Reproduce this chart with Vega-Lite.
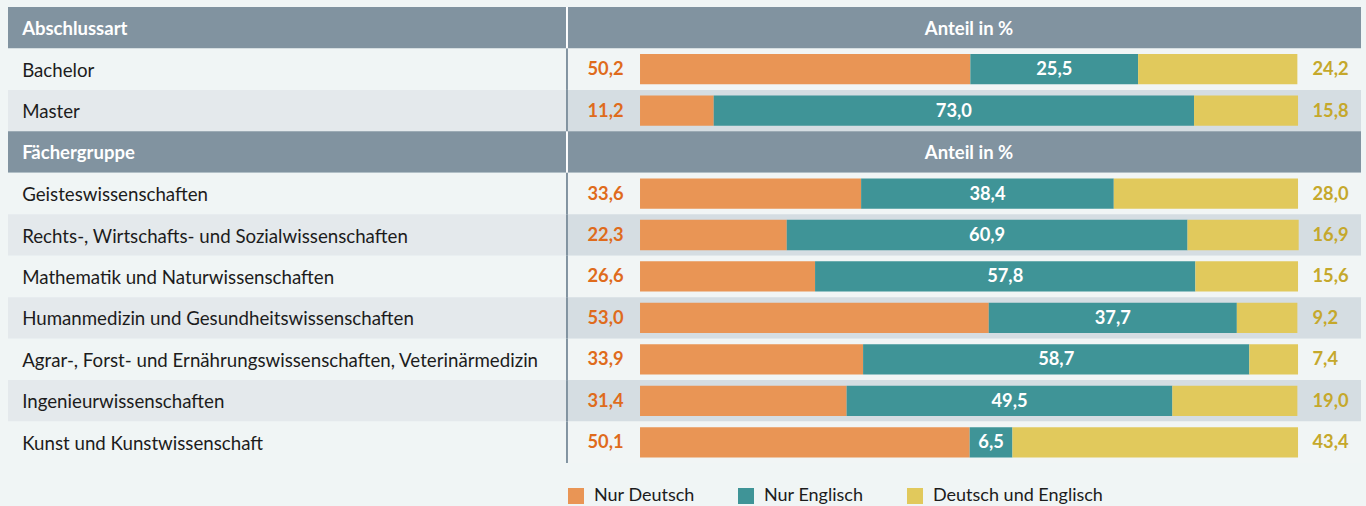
{
  "$schema": "https://vega.github.io/schema/vega-lite/v6.json",
  "width": 1353,
  "height": 456,
  "autosize": {"type": "none"},
  "padding": {"left": 8, "top": 7, "right": 5, "bottom": 43},
  "background": "#f0f5f5",
  "config": {
    "view": {"stroke": null},
    "font": "Lato",
    "locale": {"number": {"decimal": ",", "thousands": ".", "grouping": [3], "currency": ["", " €"]}}
  },
  "datasets": {
    "rows": [
      {"r": 1, "label": "Abschlussart", "kind": "header", "head": "Anteil in %"},
      {"r": 2, "label": "Bachelor", "kind": "odd", "D": 50.2, "E": 25.5, "B": 24.2},
      {"r": 3, "label": "Master", "kind": "even", "D": 11.2, "E": 73.0, "B": 15.8},
      {"r": 4, "label": "Fächergruppe", "kind": "header", "head": "Anteil in %"},
      {"r": 5, "label": "Geisteswissenschaften", "kind": "odd", "D": 33.6, "E": 38.4, "B": 28.0},
      {"r": 6, "label": "Rechts-, Wirtschafts- und Sozialwissenschaften", "kind": "even", "D": 22.3, "E": 60.9, "B": 16.9},
      {"r": 7, "label": "Mathematik und Naturwissenschaften", "kind": "odd", "D": 26.6, "E": 57.8, "B": 15.6},
      {"r": 8, "label": "Humanmedizin und Gesundheitswissenschaften", "kind": "even", "D": 53.0, "E": 37.7, "B": 9.2},
      {"r": 9, "label": "Agrar-, Forst- und Ernährungswissenschaften, Veterinärmedizin", "kind": "odd", "D": 33.9, "E": 58.7, "B": 7.4},
      {"r": 10, "label": "Ingenieurwissenschaften", "kind": "even", "D": 31.4, "E": 49.5, "B": 19.0},
      {"r": 11, "label": "Kunst und Kunstwissenschaft", "kind": "odd", "D": 50.1, "E": 6.5, "B": 43.4}
    ]
  },
  "data": {"name": "rows"},
  "layer": [
    {
      "mark": {"type": "rect"},
      "encoding": {
        "x": {"datum": -96.05, "type": "quantitative", "scale": {"domain": [-96.05, 109.57], "nice": false, "zero": false}, "axis": null},
        "x2": {"datum": -11.1},
        "y": {"field": "r", "type": "ordinal", "scale": {"paddingInner": 0, "paddingOuter": 0}, "axis": null},
        "fill": {"condition": [{"test": "datum.kind === 'header'", "value": "#8193a0"}, {"test": "datum.kind === 'even'", "value": "#e4e9ec"}], "value": "#f0f5f5"}
      }
    },
    {
      "mark": {"type": "rect"},
      "encoding": {
        "x": {"datum": -11.1, "type": "quantitative"},
        "x2": {"datum": 109.57},
        "y": {"field": "r", "type": "ordinal"},
        "fill": {"condition": [{"test": "datum.kind === 'header'", "value": "#8193a0"}, {"test": "datum.kind === 'even'", "value": "#d5dde2"}], "value": "#f1f5f5"}
      }
    },
    {
      "mark": {"type": "rect"},
      "encoding": {
        "x": {"datum": -11.25, "type": "quantitative"},
        "x2": {"datum": -10.95},
        "y": {"field": "r", "type": "ordinal"},
        "fill": {"condition": [{"test": "datum.kind === 'header'", "value": "#ffffff"}], "value": "#8193a0"}
      }
    },
    {
      "transform": [{"filter": "datum.kind !== 'header'"}],
      "mark": {"type": "text", "align": "left", "baseline": "middle", "fontSize": 18.7, "dy": 1.5, "color": "#1c1c1c"},
      "encoding": {
        "x": {"datum": -93.9, "type": "quantitative"},
        "y": {"field": "r", "type": "ordinal"},
        "text": {"field": "label"}
      }
    },
    {
      "transform": [{"filter": "datum.kind === 'header'"}],
      "mark": {"type": "text", "align": "left", "baseline": "middle", "fontSize": 18.5, "dy": 1, "fontWeight": "bold", "color": "#ffffff"},
      "encoding": {
        "x": {"datum": -93.9, "type": "quantitative"},
        "y": {"field": "r", "type": "ordinal"},
        "text": {"field": "label"}
      }
    },
    {
      "transform": [{"filter": "datum.kind === 'header'"}],
      "mark": {"type": "text", "align": "center", "baseline": "middle", "fontSize": 18.5, "dy": 1, "fontWeight": "bold", "color": "#ffffff"},
      "encoding": {
        "x": {"datum": 50, "type": "quantitative"},
        "y": {"field": "r", "type": "ordinal"},
        "text": {"field": "head"}
      }
    },
    {
      "transform": [
        {"filter": "datum.kind !== 'header'"},
        {"fold": ["D", "E", "B"], "as": ["cat", "v"]},
        {"stack": "v", "groupby": ["r"], "as": ["x0", "x1"]}
      ],
      "layer": [
        {
          "mark": {"type": "bar", "height": {"band": 0.73}},
          "encoding": {
            "x": {"field": "x0", "type": "quantitative"},
            "x2": {"field": "x1"},
            "y": {"field": "r", "type": "ordinal"},
            "color": {
              "field": "cat",
              "type": "nominal",
              "scale": {"domain": ["D", "E", "B"], "range": ["#e99555", "#3f9497", "#e1c95c"]},
              "legend": {
                "title": null,
                "orient": "none",
                "direction": "horizontal",
                "legendX": 559,
                "legendY": 480,
                "padding": 0,
                "symbolType": "square",
                "symbolSize": 256,
                "symbolStrokeWidth": 0,
                "symbolOpacity": 1,
                "labelFontSize": 18,
                "labelColor": "#1c1c1c",
                "labelOffset": 9,
                "labelLimit": 400,
                "columnPadding": 42,
                "labelExpr": "datum.value === 'D' ? 'Nur Deutsch' : datum.value === 'E' ? 'Nur Englisch' : 'Deutsch und Englisch'"
              }
            }
          }
        },
        {
          "transform": [
            {"filter": "datum.cat === 'E'"},
            {"fold": ["x0", "x1"], "as": ["edge", "ex"]},
            {"aggregate": [{"op": "mean", "field": "ex", "as": "mid"}, {"op": "max", "field": "v", "as": "val"}], "groupby": ["r"]}
          ],
          "mark": {"type": "text", "align": "center", "baseline": "middle", "fontSize": 18.3, "dy": 1, "fontWeight": "bold", "color": "#ffffff"},
          "encoding": {
            "x": {"field": "mid", "type": "quantitative"},
            "y": {"field": "r", "type": "ordinal"},
            "text": {"field": "val", "type": "quantitative", "format": ".1f"}
          }
        }
      ]
    },
    {
      "transform": [{"filter": "datum.kind !== 'header'"}],
      "mark": {"type": "text", "align": "right", "baseline": "middle", "fontSize": 18.3, "dy": 1, "fontWeight": "bold", "color": "#df6b1c"},
      "encoding": {
        "x": {"datum": -2.5, "type": "quantitative"},
        "y": {"field": "r", "type": "ordinal"},
        "text": {"field": "D", "type": "quantitative", "format": ".1f"}
      }
    },
    {
      "transform": [{"filter": "datum.kind !== 'header'"}],
      "mark": {"type": "text", "align": "left", "baseline": "middle", "fontSize": 18.3, "dy": 1, "fontWeight": "bold", "color": "#c5a82b"},
      "encoding": {
        "x": {"datum": 102.2, "type": "quantitative"},
        "y": {"field": "r", "type": "ordinal"},
        "text": {"field": "B", "type": "quantitative", "format": ".1f"}
      }
    }
  ]
}
